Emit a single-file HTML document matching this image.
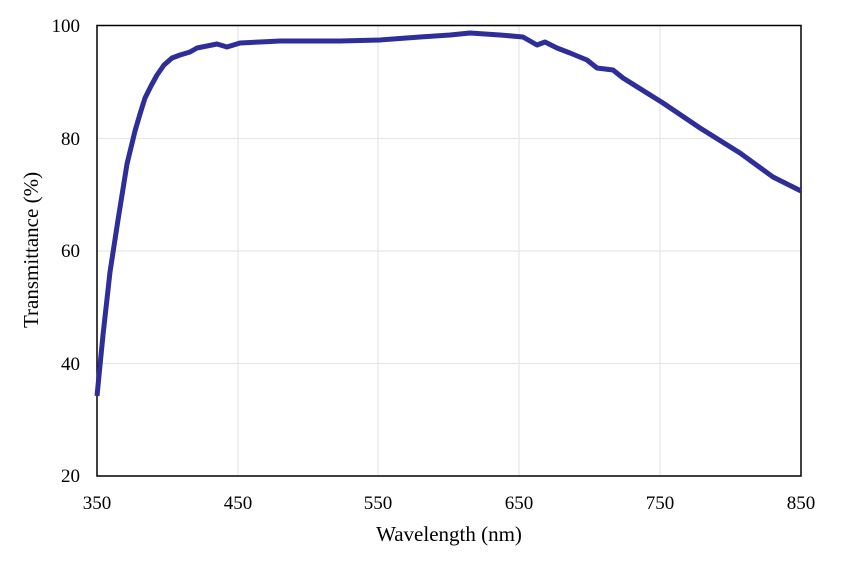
<!DOCTYPE html>
<html><head><style>body{margin:0;background:#fff}</style></head><body>
<svg width="858" height="556" xmlns="http://www.w3.org/2000/svg" font-family="Liberation Serif, serif" font-size="19" fill="#000">
<g stroke="#e6e6e6" stroke-width="1.2">
<line x1="238" y1="25" x2="238" y2="476"/><line x1="378" y1="25" x2="378" y2="476"/><line x1="519" y1="25" x2="519" y2="476"/><line x1="660" y1="25" x2="660" y2="476"/>
<line x1="97" y1="138.5" x2="801" y2="138.5"/><line x1="97" y1="251" x2="801" y2="251"/><line x1="97" y1="363.5" x2="801" y2="363.5"/>
</g>
<rect x="97" y="25.5" width="704" height="450.5" fill="none" stroke="#000" stroke-width="1.5"/>
<polyline fill="none" stroke="#2e2e9a" stroke-width="5" stroke-linejoin="round" points="97,396 103,335 110,272 118,220 127,164 135,131 140,114 145,98 151,86 157,75 164,65 172,58 180,55 190,52 197,48 207,46 217,44 227,47 240,43 260,42 280,41 300,41 340,41 380,40 420,37 450,35 470,33 500,35 523,37 537,45 545,42 557,48 570,53 587,60 597,68 613,70 623,78 663,103 700,128 740,153 773,177 801,191"/>
<g text-anchor="end"><text x="80" y="32">100</text><text x="80" y="145">80</text><text x="80" y="257">60</text><text x="80" y="370">40</text><text x="80" y="482">20</text></g>
<g text-anchor="middle"><text x="97" y="509">350</text><text x="238" y="509">450</text><text x="378" y="509">550</text><text x="519" y="509">650</text><text x="660" y="509">750</text><text x="801" y="509">850</text>
<text x="449" y="541" font-size="21">Wavelength  (nm)</text>
<text transform="translate(38,250) rotate(-90)" font-size="21">Transmittance  (%)</text></g>
</svg>
</body></html>
